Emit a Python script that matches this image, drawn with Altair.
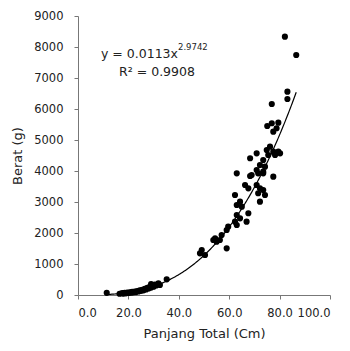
import altair as alt
import pandas as pd

# Panjang Total (cm)
panjang = [
    11.4, 16.5, 17.5, 18.0, 18.5, 19.0, 19.5, 20.0, 20.5, 21.0, 21.5, 22.0, 22.5,
    23.0, 23.5, 24.0, 24.5, 25.0, 25.5, 26.0, 26.5, 27.0, 27.5, 28.0, 28.5, 29.0,
    29.5, 30.0, 30.5, 31.0, 31.9, 32.5, 29.0, 35.2,
    49.1, 48.4, 50.4, 54.4, 55.0, 53.7, 57.0, 56.3, 59.0, 59.6, 59.0,
    62.3, 63.0, 66.9, 63.0, 64.3, 67.6, 64.3, 65.0, 63.0, 72.2,
    62.3, 70.9, 72.2, 73.5, 71.5, 74.2, 66.3, 67.6,
    68.3, 71.5, 73.5, 63.0, 73.5, 68.9, 77.5, 70.9, 72.2, 74.2, 68.3, 73.5,
    76.2, 77.5, 80.2, 75.5, 70.9, 74.9, 78.2, 79.5,
    75.1, 76.9, 79.5, 77.5, 78.8, 76.9, 83.1, 83.1, 86.6, 82.1,
]
# Berat (g)
berat = [
    70, 40, 60, 45, 70, 55, 80, 65, 90, 75, 100, 85, 110,
    95, 130, 115, 150, 135, 170, 150, 200, 180, 230, 210, 260, 240,
    300, 270, 340, 310, 377, 323, 350, 506,
    1452, 1345, 1290, 1829, 1720, 1774, 1936, 1774, 1506, 2204, 2097,
    2365, 2258, 2365, 2581, 2474, 2636, 3010, 2849, 2903, 3010,
    3226, 3549, 3442, 3387, 3281, 3226, 3549, 3442,
    3839, 3926, 3978, 3926, 3926, 3871, 3816, 4033, 4194, 4139, 4410, 4355,
    4784, 4623, 4571, 4516, 4571, 4678, 4516, 4623,
    5452, 5539, 5558, 5268, 5378, 6162, 6558, 6323, 7742, 8333,
]

# Trendline as printed on the chart: y = a * x^b
coef_a = 0.0113
coef_b = 2.9742
trend_start = 11.4
trend_stop = 86.8

x_ticks = [0, 20, 40, 60, 80, 100]
y_ticks = [0, 1000, 2000, 3000, 4000, 5000, 6000, 7000, 8000, 9000]

df = pd.DataFrame({"panjang": panjang, "berat": berat})

FONT = "DejaVu Sans"

x_enc = alt.X(
    "panjang:Q",
    title="Panjang Total (Cm)",
    scale=alt.Scale(domain=[0, 100], nice=False),
    axis=alt.Axis(values=x_ticks, format=".1f", grid=False,
                  tickSize=4, labelPadding=8, titlePadding=9),
)
y_enc = alt.Y(
    "berat:Q",
    title="Berat (g)",
    scale=alt.Scale(domain=[0, 9000], nice=False),
    axis=alt.Axis(values=y_ticks, format="d", grid=False, labelOverlap=False,
                  tickSize=4, labelPadding=11, titlePadding=9),
)

points = alt.Chart(df).mark_circle(size=38, color="black", opacity=1).encode(
    x=x_enc, y=y_enc
)

trend = alt.Chart(
    alt.sequence(trend_start, trend_stop + 0.01, 0.4, as_="panjang")
).transform_calculate(
    berat=f"{coef_a} * pow(datum.panjang, {coef_b})"
).mark_line(color="black", strokeWidth=1.2).encode(x=x_enc, y=y_enc)

eq_main = alt.Chart(pd.DataFrame({"t": ["y = 0.0113x"]})).mark_text(
    align="left", baseline="middle", fontSize=12.5, font=FONT, color="#222"
).encode(x=alt.value(23), y=alt.value(38), text="t:N")

eq_sup = alt.Chart(pd.DataFrame({"t": ["2.9742"]})).mark_text(
    align="left", baseline="middle", fontSize=8.5, font=FONT, color="#222"
).encode(x=alt.value(100), y=alt.value(31), text="t:N")

r2 = alt.Chart(pd.DataFrame({"t": ["R² = 0.9908"]})).mark_text(
    align="center", baseline="middle", fontSize=12.5, font=FONT, color="#222"
).encode(x=alt.value(79), y=alt.value(56), text="t:N")

chart = alt.layer(points, trend, eq_main, eq_sup, r2).properties(
    width=252, height=279,
    autosize=alt.AutoSizeParams(type="none"),
    padding={"left": 70, "top": 8, "right": 12, "bottom": 48},
).configure_view(stroke=None).configure_axis(
    domainColor="#777", tickColor="#777", labelColor="#222", titleColor="#222",
    labelFont=FONT, titleFont=FONT, labelFontSize=11.5, titleFontSize=13,
    titleFontWeight="normal",
)

chart.save("out.html", embed_options={"renderer": "svg", "actions": False})
